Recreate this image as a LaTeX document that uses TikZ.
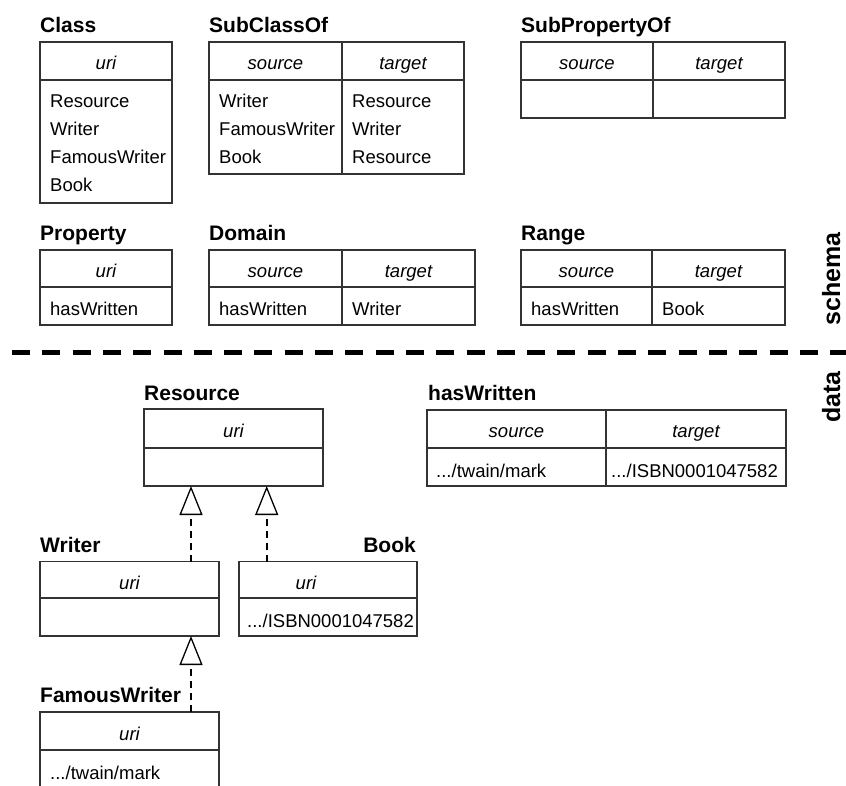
\documentclass[tikz,border=0pt]{standalone}
\usepackage{fontspec}
\setmainfont{Liberation Sans}
\usetikzlibrary{arrows.meta}
\definecolor{linec}{HTML}{333333}
\newcommand\tablebox[6]{%
  \node[tbl, minimum width={(#4-#2)*1pt}, minimum height={(#5-#3)*1pt}] (#1) at ({(#2+#4)/2},{(#3+#5)/2}) {};
  \draw[tblline] (#2,#6) -- (#4,#6);
}
\begin{document}
\begin{tikzpicture}[x=1pt,y=-1pt,
  tbl/.style={draw=linec, line width=1.3pt, inner sep=0pt, outer sep=0pt},
  tblline/.style={draw=linec, line width=1.3pt},
  title/.style={anchor=base west, inner sep=0pt, font=\fontsize{21}{25}\selectfont\bfseries},
  cell/.style={anchor=base west, inner sep=0pt, font=\fontsize{18.5}{22}\selectfont},
  head/.style={anchor=base, inner sep=0pt, font=\fontsize{18.5}{22}\selectfont\itshape},
  side/.style={anchor=base, rotate=90, inner sep=0pt, font=\fontsize{25}{30}\selectfont\bfseries},
  sepline/.style={line width=5pt, dash pattern=on 18pt off 12.3pt},
  inh/.style={draw=black, line width=2pt, dash pattern=on 7pt off 5pt,
    -{Triangle[open, length=29pt, width=23pt, line width=1.3pt]}}]
\useasboundingbox (0,0) rectangle (846,786);

% ---------- schema ----------
\tablebox{class}{40}{42}{172}{203}{80}
\node[title] (tclass) at (40,33) {Class};
\node[head] (hclass) at (106,70) {uri};
\node[cell] (c1) at (50,108) {Resource};
\node[cell] (c2) at (50,136) {Writer};
\node[cell] (c3) at (50,164) {FamousWriter};
\node[cell] (c4) at (50,192) {Book};

\tablebox{subclass}{209}{42}{464}{174}{80}
\draw[tblline] (342,42) -- (342,174);
\node[title] (tsub) at (209,33) {SubClassOf};
\node[head] (hs1) at (275.5,70) {source};
\node[head] (hs2) at (403,70) {target};
\node[cell] (s1) at (219,108) {Writer};
\node[cell] (s2) at (219,136) {FamousWriter};
\node[cell] (s3) at (219,164) {Book};
\node[cell] (s4) at (352,108) {Resource};
\node[cell] (s5) at (352,136) {Writer};
\node[cell] (s6) at (352,164) {Resource};

\tablebox{subprop}{521}{42}{785}{118}{80}
\draw[tblline] (653,42) -- (653,118);
\node[title] (tsp) at (521,33) {SubPropertyOf};
\node[head] (hp1) at (587,70) {source};
\node[head] (hp2) at (719,70) {target};

\tablebox{property}{40}{250}{172}{325}{287}
\node[title] (tprop) at (40,241) {Property};
\node[head] (hprop) at (106,278) {uri};
\node[cell] (p1) at (50,316) {hasWritten};

\tablebox{domain}{209}{250}{475}{325}{287}
\draw[tblline] (342,250) -- (342,325);
\node[title] (tdom) at (209,241) {Domain};
\node[head] (hd1) at (275.5,278) {source};
\node[head] (hd2) at (408.5,278) {target};
\node[cell] (d1) at (219,316) {hasWritten};
\node[cell] (d2) at (352,316) {Writer};

\tablebox{range}{521}{250}{785}{325}{287}
\draw[tblline] (652,250) -- (652,325);
\node[title] (trange) at (521,241) {Range};
\node[head] (hr1) at (586.5,278) {source};
\node[head] (hr2) at (718.5,278) {target};
\node[cell] (r1) at (531,316) {hasWritten};
\node[cell] (r2) at (662,316) {Book};

% ---------- separator ----------
\draw[sepline] (12,352) -- (846,352);
\node[side] (lschema) at (840,279) {schema};
\node[side] (ldata) at (840,397) {data};

% ---------- data ----------
\tablebox{resource}{144}{409}{323}{486}{448}
\node[title] (tres) at (144,400) {Resource};
\node[head] (hres) at (233.5,437) {uri};

\tablebox{haswritten}{427}{410}{786}{486}{448}
\draw[tblline] (606,410) -- (606,486);
\node[title] (thw) at (428,400) {hasWritten};
\node[head] (hh1) at (516.5,437) {source};
\node[head] (hh2) at (696,437) {target};
\node[cell] (h1) at (436,477) {.../twain/mark};
\node[cell] (h2) at (611,477) {.../ISBN0001047582};

\tablebox{writer}{40}{561.5}{219}{636}{598}
\node[title] (twr) at (40,552) {Writer};
\node[head] (hwr) at (129.5,589) {uri};

\tablebox{book}{239}{561.5}{417}{636}{598}
\node[title, anchor=base east] (tbook) at (416,552) {Book};
\node[head] (hbook) at (306,589) {uri};
\node[cell] (b1) at (247,627) {.../ISBN0001047582};

\tablebox{famous}{40}{712}{219}{790}{750}
\node[title] (tfam) at (40,702) {FamousWriter};
\node[head] (hfam) at (129.5,740) {uri};
\node[cell] (f1) at (50,779) {.../twain/mark};

% ---------- inheritance connectors ----------
\draw[inh] ([xshift=61.5pt]writer.north) -- ([xshift=61.5pt]writer.north |- resource.south);
\draw[inh] ([xshift=-61.3pt]book.north) -- ([xshift=-61.3pt]book.north |- resource.south);
\draw[inh] ([xshift=61.5pt]famous.north) -- ([xshift=61.5pt]famous.north |- writer.south);
\end{tikzpicture}
\end{document}
